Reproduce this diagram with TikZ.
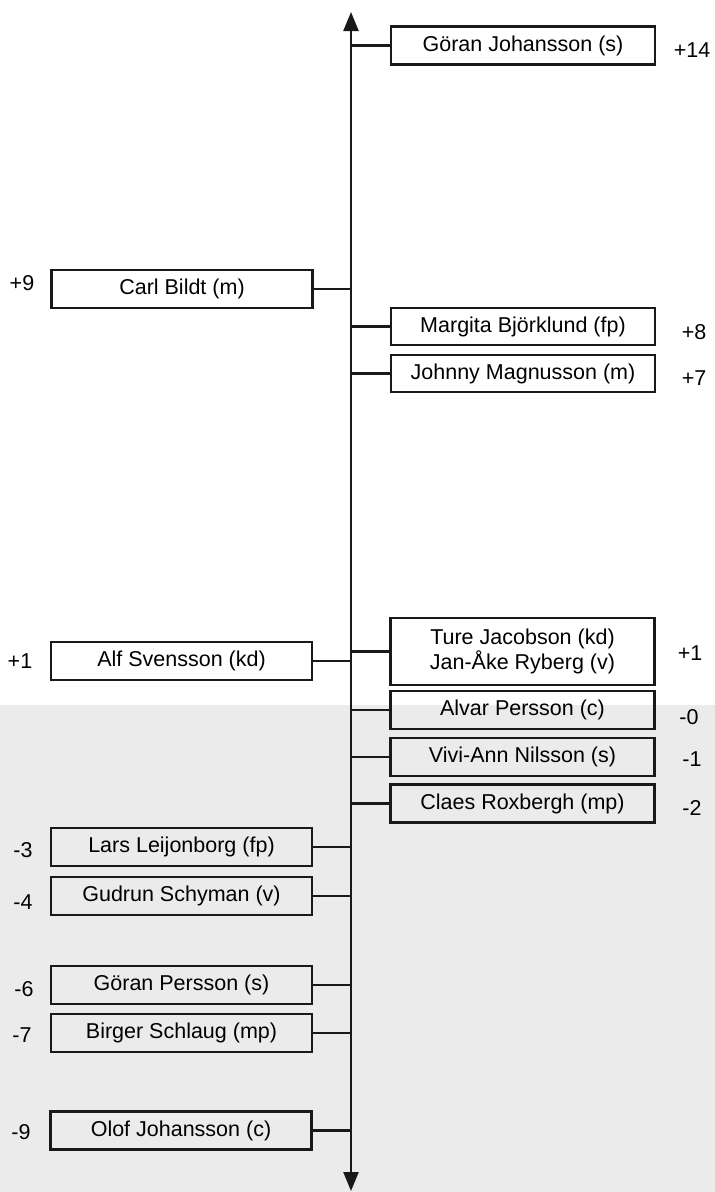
\documentclass[tikz,border=0pt]{standalone}
\usepackage{fontspec}
\setmainfont{Liberation Sans}
\usetikzlibrary{arrows.meta}
\tikzset{
  namebox/.style={draw=black!90, line width=2.6pt, inner sep=0pt, minimum height=38pt,
    align=center, font=\fontsize{21.5}{25}\selectfont, text=black},
  rbox/.style={namebox, minimum width=264pt},
  lbox/.style={namebox, minimum width=261pt},
  score/.style={inner sep=0pt, font=\fontsize{21.5}{25}\selectfont, text=black},
  link/.style={draw=black!90, line width=2.6pt},
  axisline/.style={draw=black!90, line width=2.4pt,
    {Triangle[length=19pt,width=15pt]}-{Triangle[length=19pt,width=15pt]}}
}
\begin{document}
\begin{tikzpicture}[x=1pt,y=-1pt]
\useasboundingbox (0,0) rectangle (715,1192);
\fill[black!8] (0,705) rectangle (715,1192);
\coordinate (axtop) at (351,12);
\coordinate (axbot) at (351,1191);
\draw[axisline] (axbot) -- (axtop);
% right column
\node[rbox] (gj) at (523,45.5) {Göran Johansson (s)};
\node[rbox, minimum height=37pt] (mb) at (523,326.5) {Margita Björklund (fp)};
\node[rbox, minimum height=37pt] (jm) at (523,373.5) {Johnny Magnusson (m)};
\node[rbox, minimum height=67pt] (tj) at (522.5,651.5) {Ture Jacobson (kd)\\Jan-Åke Ryberg (v)};
\node[rbox] (ap) at (522.5,710) {Alvar Persson (c)};
\node[rbox] (va) at (522.5,757) {Vivi-Ann Nilsson (s)};
\node[rbox] (cr) at (522.5,803.5) {Claes Roxbergh (mp)};
% left column
\node[lbox] (cb) at (182,289) {Carl Bildt (m)};
\node[lbox] (as) at (181.5,661) {Alf Svensson (kd)};
\node[lbox] (ll) at (181.5,847) {Lars Leijonborg (fp)};
\node[lbox] (gs) at (181.5,896) {Gudrun Schyman (v)};
\node[lbox] (gp) at (181.5,985) {Göran Persson (s)};
\node[lbox] (bs) at (181.5,1033) {Birger Schlaug (mp)};
\node[lbox] (oj) at (181,1130.5) {Olof Johansson (c)};
% connectors
\foreach \b in {gj,mb,jm,tj,ap,va,cr}{
  \draw[link] (\b.west -| axtop) -- (\b.west);
}
\foreach \b in {cb,as,ll,gs,gp,bs,oj}{
  \draw[link] (\b.east) -- (\b.east -| axtop);
}
% scores right
\node[score] (sgj) at (692,50) {+14};
\node[score] (smb) at (694,332) {+8};
\node[score] (sjm) at (694,378) {+7};
\node[score] (stj) at (690,653) {+1};
\node[score] (sap) at (689,717) {-0};
\node[score] (sva) at (692,759) {-1};
\node[score] (scr) at (692,808) {-2};
% scores left
\node[score] (scb) at (22,283) {+9};
\node[score] (sas) at (20,661) {+1};
\node[score] (sll) at (23,850) {-3};
\node[score] (sgs) at (23,902) {-4};
\node[score] (sgp) at (24,989) {-6};
\node[score] (sbs) at (22,1035) {-7};
\node[score] (soj) at (21,1132) {-9};
\end{tikzpicture}
\end{document}
